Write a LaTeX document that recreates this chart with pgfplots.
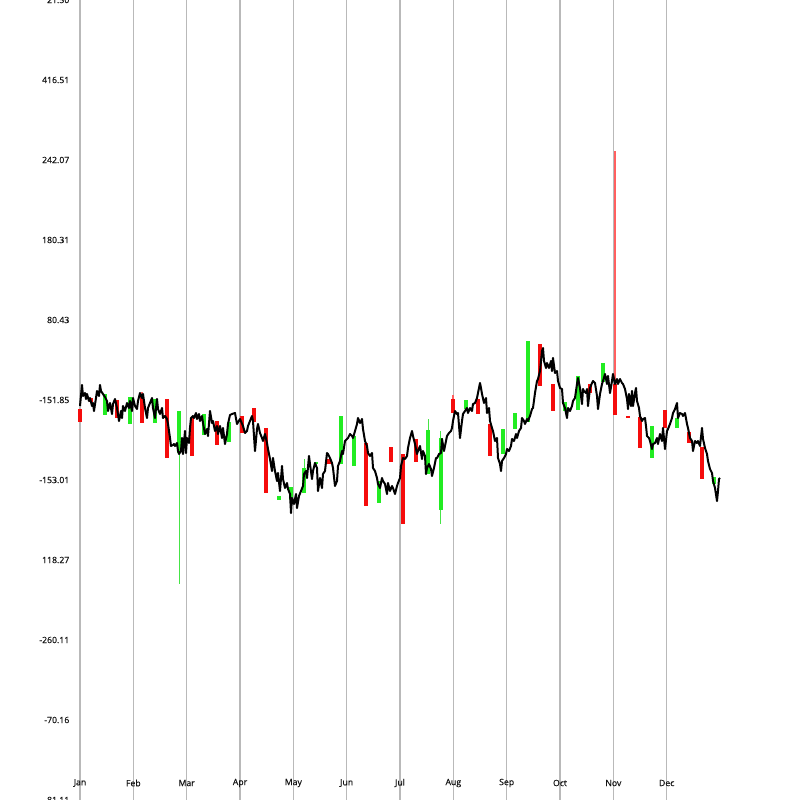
\documentclass[border=0pt]{standalone}
\usepackage{fontspec}
\setmainfont{Open Sans}[UprightFeatures={FakeBold=0.5}]
\usepackage{pgfplots}
\pgfplotsset{compat=1.18}
\definecolor{candleRed}{RGB}{245,12,12}
\definecolor{candleGreen}{RGB}{34,236,34}
\definecolor{wickRed}{RGB}{255,95,95}
\definecolor{wickGreen}{RGB}{70,228,70}
\definecolor{gridGray}{RGB}{185,185,185}
\definecolor{labelGray}{RGB}{20,20,20}
\begin{document}
\begin{tikzpicture}
\begin{axis}[
  scale only axis, width=720pt, height=800pt,
  xmin=80, xmax=800, ymin=-1, ymax=799, y dir=reverse,
  clip=false,
  axis line style={draw=none}, major tick length=0pt,
  unbounded coords=jump,
  xtick={80,133.33,186.67,240,293.33,346.67,400,453.33,506.67,560,613.33,666.67},
  xticklabels={Jan,Feb,Mar,Apr,May,Jun,Jul,Aug,Sep,Oct,Nov,Dec},
  ytick={-1,79,159,239,319,399,479,559,639,719,799},
  yticklabels={21.50,416.51,242.07,180.31,80.43,-151.85,-153.01,118.27,-260.11,-70.16,-81.11},
  xmajorgrids, major grid style={gridGray, line width=1.2pt},
  /pgf/number format/assume math mode=true,
  ticklabel style={font=\fontsize{8.7}{10}\selectfont, text=labelGray},
  xticklabel style={anchor=center, yshift=17pt},
  yticklabel style={anchor=east, inner sep=0pt, xshift=-10.5pt},
]
% wicks
\addplot[wickRed, line width=1.2pt] coordinates {
(142,391)(142,394)(142,nan)
(453,394)(453,398)(453,nan)
(615,150)(615,383)(615,nan)
};
\addplot[wickGreen, line width=0.9pt] coordinates {
(179,452)(179,583)(179,nan)
(304,458)(304,467)(304,nan)
(428,418)(428,429)(428,nan)
(440.5,430)(440.5,437)(440.5,nan)
(440.5,509)(440.5,523)(440.5,nan)
};
% red bodies
\addplot[candleRed, line width=4pt, line cap=butt] coordinates {
(80,408)(80,421)(80,nan)
(91,397)(91,401)(91,nan)
(117,399)(117,417)(117,nan)
(142,394)(142,422)(142,nan)
(167,398)(167,457)(167,nan)
(192,417)(192,455)(192,nan)
(217,420)(217,444)(217,nan)
(241.5,415)(241.5,432)(241.5,nan)
(254,407)(254,421)(254,nan)
(266,427)(266,492)(266,nan)
(328.5,458)(328.5,463)(328.5,nan)
(366,442)(366,505)(366,nan)
(391,446)(391,461)(391,nan)
(403,453)(403,523)(403,nan)
(415.5,438)(415.5,461)(415.5,nan)
(453,398)(453,412)(453,nan)
(478,398)(478,413)(478,nan)
(490,423)(490,455)(490,nan)
(540,343)(540,385)(540,nan)
(552.5,383)(552.5,410)(552.5,nan)
(590,383)(590,392)(590,nan)
(615,383)(615,414)(615,nan)
(627.5,415)(627.5,417)(627.5,nan)
(640,416)(640,447)(640,nan)
(664.5,409)(664.5,427)(664.5,nan)
(689,431)(689,442)(689,nan)
(702,446)(702,478)(702,nan)
};
% green bodies
\addplot[candleGreen, line width=4pt, line cap=butt] coordinates {
(104.5,393)(104.5,414)(104.5,nan)
(129.5,396)(129.5,423)(129.5,nan)
(154.5,398)(154.5,422)(154.5,nan)
(179,410)(179,452)(179,nan)
(204,413)(204,434)(204,nan)
(229,421)(229,441)(229,nan)
(279,495)(279,499)(279,nan)
(291,486)(291,499)(291,nan)
(304,467)(304,492)(304,nan)
(316,461)(316,463)(316,nan)
(341,415)(341,463)(341,nan)
(353.5,435)(353.5,465)(353.5,nan)
(378.5,480)(378.5,502)(378.5,nan)
(428,429)(428,473)(428,nan)
(440.5,437)(440.5,509)(440.5,nan)
(465.5,399)(465.5,408)(465.5,nan)
(503,428)(503,453)(503,nan)
(515,412)(515,428)(515,nan)
(527.5,340)(527.5,421)(527.5,nan)
(565,401)(565,410)(565,nan)
(577.5,375)(577.5,409)(577.5,nan)
(602.5,362)(602.5,381)(602.5,nan)
(652,425)(652,457)(652,nan)
(677,417)(677,427)(677,nan)
(714,476)(714,483)(714,nan)
};
% daily line
\addplot[black, line width=2pt, line join=round] coordinates {
(80,405)(82,384)(83,395)(85,392)(86,398)(87,393)(89,400)(90,397)(92,405)(93,402)
(94,410)(96,397)(97,390)(99,395)(100,384)(101,390)(103,393)(105,396)(107,400)(108,410)
(110,402)(112,413)(113,403)(115,398)(117,407)(119,420)(121,410)(122,417)(123,405)(125,410)
(127,402)(129,407)(130,400)(132,410)(133,397)(135,405)(137,408)(138,400)(140,392)(142,397)
(143,393)(145,407)(147,417)(148,407)(150,402)(152,397)(153,407)(155,417)(157,398)(158,408)
(160,413)(162,407)(163,417)(165,415)(167,418)(168,423)(170,437)(171,445)(173,444)(174,443)
(175,445)(177,442)(178,450)(179,453)(181,450)(182,437)(183,453)(185,430)(186,452)(187,437)
(189,442)(190,427)(191,417)(193,415)(194,417)(196,412)(197,418)(199,413)(200,420)(202,415)
(203,422)(205,433)(207,428)(208,435)(210,410)(212,422)(213,420)(215,430)(217,425)(218,433)
(220,425)(222,437)(223,427)(225,443)(227,433)(228,423)(230,414)(232,413)(235,412)(237,423)
(240,418)(243,425)(245,432)(247,430)(248,425)(250,420)(252,415)(253,420)(255,450)(257,428)
(258,423)(260,432)(262,437)(263,440)(265,433)(267,442)(268,448)(270,458)(272,470)(273,457)
(275,470)(277,480)(278,472)(280,490)(282,465)(283,478)(285,487)(287,482)(288,488)(290,493)
(291,512)(292,497)(294,503)(296,493)(297,507)(299,495)(301,490)(303,485)(304,473)(306,470)
(307,477)(309,455)(310,463)(312,478)(313,470)(315,462)(317,467)(318,490)(320,477)(322,487)
(323,473)(325,470)(327,452)(328,453)(330,457)(332,462)(333,467)(335,485)(337,480)(338,465)
(340,460)(342,450)(343,453)(345,440)(347,438)(348,437)(350,433)(352,435)(353,437)(355,430)
(357,423)(358,417)(360,422)(362,418)(363,428)(365,440)(367,445)(368,452)(370,455)(372,452)
(373,467)(375,470)(377,477)(378,483)(380,487)(382,477)(383,480)(385,483)(387,493)(388,482)
(390,490)(392,485)(393,487)(395,493)(397,485)(398,482)(400,477)(401,465)(403,457)(405,458)
(407,455)(408,447)(410,437)(412,430)(413,435)(415,443)(417,453)(418,450)(420,445)(422,458)
(423,450)(425,455)(426,473)(427,467)(429,463)(431,468)(432,475)(434,467)(436,457)(437,457)
(439,453)(441,452)(442,438)(444,450)(446,440)(447,435)(449,432)(451,430)(452,427)(453,420)
(455,410)(457,413)(458,412)(460,437)(462,420)(463,413)(465,410)(467,407)(468,412)(470,407)
(472,410)(473,403)(475,402)(477,397)(478,392)(480,382)(481,387)(482,393)(484,402)(486,397)
(487,412)(489,407)(490,420)(492,427)(493,430)(495,440)(497,437)(498,457)(500,463)(501,470)
(502,460)(504,457)(506,453)(507,448)(509,450)(511,445)(512,438)(514,440)(516,433)(517,437)
(519,430)(521,427)(522,417)(524,420)(525,423)(527,418)(528,420)(530,415)(532,408)(533,407)
(535,392)(537,380)(538,378)(540,370)(542,350)(543,347)(544,360)(546,367)(547,362)(549,367)
(551,360)(552,370)(553,357)(555,372)(557,370)(558,380)(560,387)(562,388)(563,402)(565,407)
(567,417)(568,407)(570,410)(572,405)(573,400)(575,397)(577,383)(578,377)(580,387)(582,403)
(583,388)(584,390)(586,392)(587,388)(588,405)(590,387)(592,382)(593,380)(595,382)(597,395)
(598,408)(600,393)(602,383)(603,380)(605,373)(607,383)(608,375)(610,392)(612,380)(613,373)
(615,383)(617,378)(618,383)(620,378)(622,382)(623,383)(625,388)(627,398)(628,408)(629,393)
(631,405)(632,390)(633,405)(635,392)(636,387)(637,400)(639,407)(640,415)(642,420)(643,418)
(645,417)(646,425)(647,435)(649,437)(650,440)(652,448)(653,443)(655,442)(657,437)(658,443)
(660,433)(662,440)(663,427)(665,448)(667,430)(668,428)(670,423)(672,417)(673,412)(675,408)
(677,402)(678,417)(680,412)(682,413)(683,415)(685,412)(687,423)(688,427)(690,437)(692,440)
(693,450)(695,440)(697,442)(698,440)(700,445)(702,427)(703,438)(705,447)(707,453)(708,460)
(710,468)(712,472)(713,480)(715,487)(717,500)(718,490)(719,478)(720,477)
};
\end{axis}
\pgfresetboundingbox
\path[use as bounding box] (current axis.south west) ++(-80pt,0pt) rectangle (current axis.north east);
\end{tikzpicture}
\end{document}
